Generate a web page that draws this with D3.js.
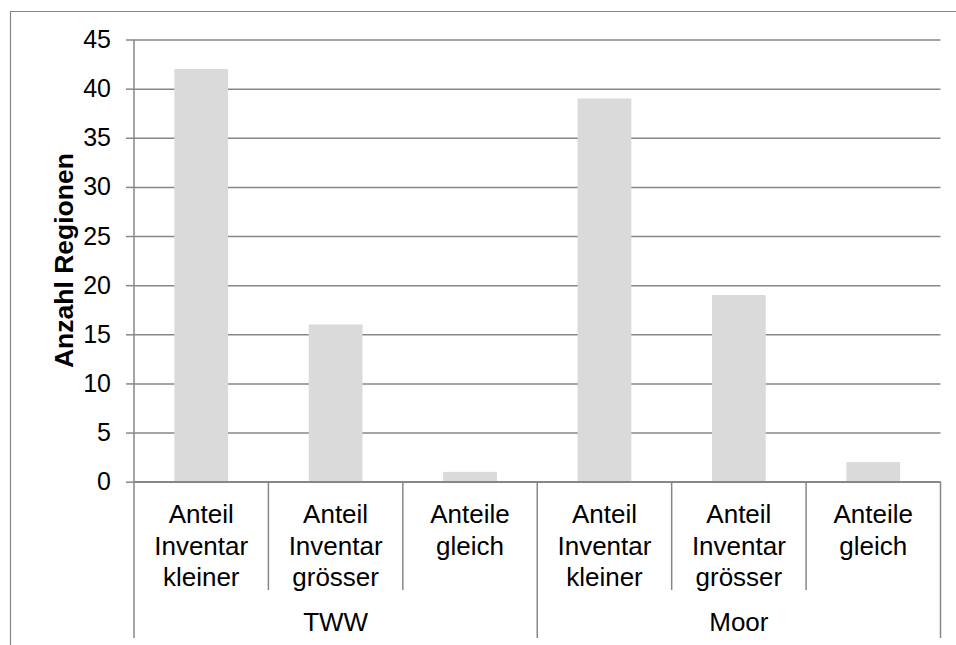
<!DOCTYPE html>
<html>
<head>
<meta charset="utf-8">
<script src="https://cdn.jsdelivr.net/npm/d3@7"></script>
<style>
  html, body { margin: 0; padding: 0; background: #fff; }
  svg { display: block; font-family: "Liberation Sans", Arial, sans-serif; }
</style>
</head>
<body>
<svg id="chart" width="956" height="645"></svg>
<script>
// Number of regions per comparison outcome, for two habitat groups
const groups = ["TWW", "Moor"];
const categories = [
  ["Anteil", "Inventar", "kleiner"],
  ["Anteil", "Inventar", "grösser"],
  ["Anteile", "gleich"]
];
const valuesTWW = [42, 16, 1];
const valuesMoor = [39, 19, 2];
const yTicks = [0, 5, 10, 15, 20, 25, 30, 35, 40, 45];
const yTitle = "Anzahl Regionen";

const lineColor = "#878787";
const barColor = "#dadada";

const svg = d3.select("#chart");

// Plot area
const plot = { left: 134, right: 940.5, top: 39.5, bottom: 481.7 };

// Flattened bar records: one per (group, category)
const bars = [];
groups.forEach((g, gi) => {
  const vals = gi === 0 ? valuesTWW : valuesMoor;
  categories.forEach((c, ci) => {
    bars.push({ id: g + "-" + ci, group: g, gi, ci, lines: c, value: vals[ci] });
  });
});

const x = d3.scaleBand()
  .domain(bars.map(d => d.id))
  .range([plot.left, plot.right])
  .paddingInner(0).paddingOuter(0);

const xGroup = d3.scaleBand()
  .domain(groups)
  .range([plot.left, plot.right]);

const y = d3.scaleLinear()
  .domain([0, 45])
  .range([plot.bottom, plot.top]);

// Outer chart frame (top and left edges run off the canvas)
svg.append("path")
  .attr("d", "M10.5,645 V11.5 H956")
  .attr("fill", "none")
  .attr("stroke", lineColor)
  .attr("stroke-width", 1.2);

// Horizontal gridlines
const grid = svg.append("g")
  .attr("transform", `translate(${plot.left},0)`)
  .call(d3.axisLeft(y).tickValues(yTicks).tickSize(-(plot.right - plot.left)).tickFormat(""));
grid.select(".domain").remove();
grid.selectAll(".tick line").attr("stroke", lineColor).attr("stroke-width", 1.5);

// Bars
const barW = x.bandwidth() * 0.4;
svg.append("g").selectAll("rect")
  .data(bars)
  .join("rect")
  .attr("x", d => x(d.id) + (x.bandwidth() - barW) / 2)
  .attr("y", d => y(d.value))
  .attr("width", barW)
  .attr("height", d => y(0) - y(d.value))
  .attr("fill", barColor);

// Y axis with outside ticks and labels
const yAxis = svg.append("g")
  .attr("transform", `translate(${plot.left},0)`)
  .call(d3.axisLeft(y).tickValues(yTicks).tickSize(8).tickPadding(15).tickSizeOuter(0));
yAxis.select(".domain").remove();
yAxis.selectAll(".tick line").attr("stroke", lineColor).attr("stroke-width", 1.5);
yAxis.selectAll(".tick text")
  .attr("font-family", "Liberation Sans, Arial, sans-serif")
  .attr("font-size", 25)
  .attr("fill", "#000");

// Vertical axis line, extended down through the category rows
svg.append("line")
  .attr("x1", plot.left).attr("x2", plot.left)
  .attr("y1", plot.top).attr("y2", 638)
  .attr("stroke", lineColor).attr("stroke-width", 1.5);

// Horizontal axis line at zero
svg.append("line")
  .attr("x1", plot.left).attr("x2", plot.right)
  .attr("y1", y(0)).attr("y2", y(0))
  .attr("stroke", lineColor).attr("stroke-width", 1.5);

// Category separators: short between categories, long between groups
const bounds = bars.map(d => x(d.id)).concat([plot.right]);
svg.append("g").selectAll("line")
  .data(bounds.slice(1))
  .join("line")
  .attr("x1", d => d).attr("x2", d => d)
  .attr("y1", y(0))
  .attr("y2", (d, i) => ((i + 1) % categories.length === 0) ? 638 : 590)
  .attr("stroke", lineColor).attr("stroke-width", 1.5);

// Category labels (multi-line)
const catLabels = svg.append("g")
  .attr("font-size", 26)
  .attr("fill", "#000")
  .attr("text-anchor", "middle");
catLabels.selectAll("text")
  .data(bars)
  .join("text")
  .attr("x", d => x(d.id) + x.bandwidth() / 2)
  .attr("y", 523)
  .selectAll("tspan")
  .data(d => d.lines.map((t, i) => ({ t, i, cx: x(d.id) + x.bandwidth() / 2 })))
  .join("tspan")
  .attr("x", d => d.cx)
  .attr("dy", d => d.i === 0 ? 0 : 31.5)
  .text(d => d.t);

// Group labels
svg.append("g")
  .attr("font-size", 26)
  .attr("fill", "#000")
  .attr("text-anchor", "middle")
  .selectAll("text")
  .data(groups)
  .join("text")
  .attr("x", d => xGroup(d) + xGroup.bandwidth() / 2)
  .attr("y", 631)
  .text(d => d);

// Y axis title
svg.append("text")
  .attr("transform", `translate(73,${(plot.top + plot.bottom) / 2}) rotate(-90)`)
  .attr("text-anchor", "middle")
  .attr("font-size", 26.5)
  .attr("font-weight", "bold")
  .attr("fill", "#000")
  .text(yTitle);
</script>
</body>
</html>
